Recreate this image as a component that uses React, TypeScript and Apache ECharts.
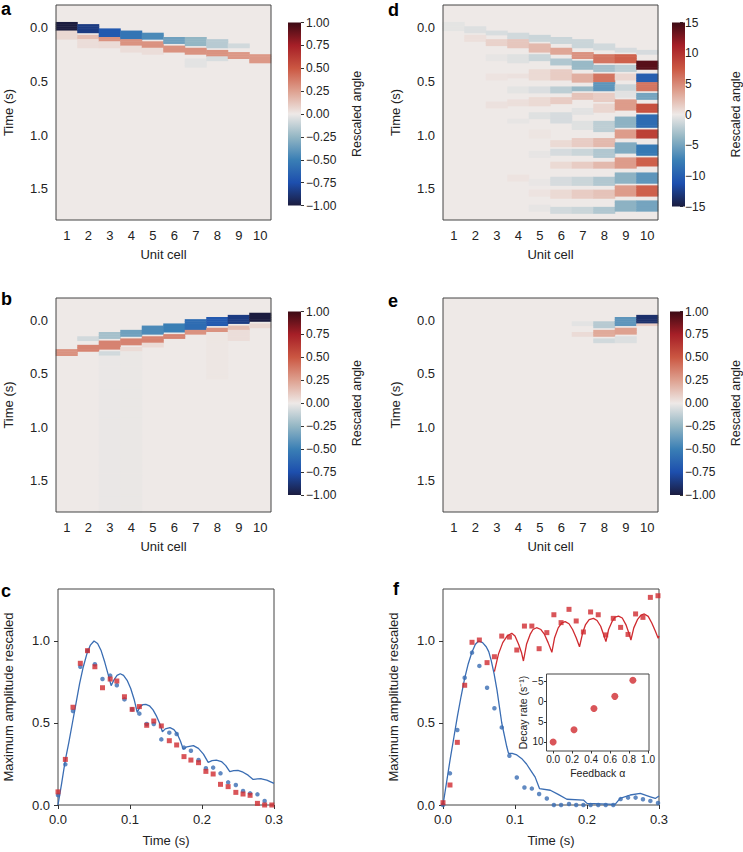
import React, { useEffect, useRef } from "react";
import * as echarts from "echarts";

const FONT = "'Liberation Sans', Arial, Helvetica, sans-serif";
const INK = "#222";
const CMAP = ["#1b1c3f", "#1d4fae", "#3a7fb5", "#93b6c4", "#eee9e7", "#dea190", "#cb5742", "#a61f27", "#3c0a14"];
const ZERO = "#eee9e7";

const CELLS = ["1", "2", "3", "4", "5", "6", "7", "8", "9", "10"];
// time rows of the heatmaps (s)
const ROW_TIMES: number[] = [];
for (let k = 0; k < 100; k++) ROW_TIMES.push(Math.round((-0.2 + 0.02 * k) * 1000) / 1000);
const ROW_LABEL_IDX = [10, 35, 60, 85];

// bands per unit cell: [t start, t end, value]
const A_BANDS = [
  [[-0.05, 0.03, -1.0], [0.04, 0.12, 0.06]],
  [[-0.03, 0.055, -0.85], [0.075, 0.12, 0.15], [0.12, 0.2, 0.04]],
  [[0.01, 0.085, -0.7], [0.1, 0.14, 0.3], [0.14, 0.2, 0.05]],
  [[0.03, 0.11, -0.55], [0.12, 0.17, 0.3], [0.17, 0.24, 0.04]],
  [[0.045, 0.12, -0.45], [0.14, 0.195, 0.3], [0.2, 0.26, 0.04]],
  [[0.085, 0.155, -0.35], [0.175, 0.24, 0.3]],
  [[0.1, 0.17, -0.25], [0.195, 0.255, 0.3], [0.3, 0.38, -0.03]],
  [[0.12, 0.195, -0.15], [0.205, 0.27, 0.3], [0.28, 0.32, -0.06]],
  [[0.155, 0.2, -0.08], [0.225, 0.285, 0.28]],
  [[0.26, 0.33, 0.28]],
];
const B_BANDS = [
  [[0.27, 0.34, 0.3]],
  [[0.16, 0.19, -0.08], [0.23, 0.3, 0.35]],
  [[0.12, 0.18, -0.2], [0.2, 0.27, 0.35], [0.29, 0.33, -0.08], [0.34, 1.8, -0.01]],
  [[0.085, 0.16, -0.35], [0.18, 0.24, 0.35], [0.26, 0.3, 0.05], [0.3, 1.8, -0.012]],
  [[0.06, 0.13, -0.45], [0.15, 0.21, 0.35], [0.22, 0.26, 0.05]],
  [[0.04, 0.11, -0.5], [0.125, 0.18, 0.35]],
  [[0.0, 0.085, -0.6], [0.1, 0.14, 0.3]],
  [[-0.02, 0.06, -0.7], [0.075, 0.12, 0.3], [0.12, 0.55, 0.012]],
  [[-0.04, 0.04, -0.85], [0.05, 0.085, 0.15], [0.085, 0.2, 0.04]],
  [[-0.06, 0.02, -1.0], [0.04, 0.07, 0.06]],
];
const D_BANDS = [
  [[-0.05, 0.03, -0.4]],
  [[0.0, 0.06, -0.7], [0.08, 0.14, 0.5]],
  [[0.03, 0.08, -0.9], [0.11, 0.17, 1.2], [0.26, 0.32, -0.3], [0.44, 0.5, 0.3], [0.7, 0.76, 0.4]],
  [[0.05, 0.11, -1.2], [0.12, 0.2, 1.8], [0.25, 0.34, -0.6], [0.43, 0.48, 0.4], [0.56, 0.62, -0.4], [0.68, 0.74, 0.5], [0.85, 0.9, -0.3], [1.38, 1.44, 0.3]],
  [[0.07, 0.13, -1.5], [0.16, 0.23, 2.5], [0.25, 0.32, -1.5], [0.4, 0.49, 0.8], [0.55, 0.62, -0.8], [0.66, 0.73, 0.8], [0.8, 0.86, -0.6], [0.96, 1.03, 0.2], [1.16, 1.22, -0.3], [1.42, 1.48, -0.2], [1.52, 1.58, 0.3], [1.66, 1.72, -0.3]],
  [[0.09, 0.16, -1.5], [0.185, 0.26, 3.5], [0.29, 0.35, -2.5], [0.4, 0.49, 1.5], [0.55, 0.62, -2.0], [0.65, 0.72, 1.5], [0.79, 0.9, -1.0], [1.05, 1.11, 0.8], [1.14, 1.2, -1.0], [1.25, 1.31, 0.8], [1.4, 1.47, -1.0], [1.51, 1.59, 0.8], [1.67, 1.73, -1.2]],
  [[0.12, 0.185, -1.5], [0.225, 0.29, 4.5], [0.32, 0.385, -3.5], [0.43, 0.51, 3.0], [0.55, 0.6, -3.5], [0.62, 0.68, 2.0], [0.76, 0.82, -0.5], [0.88, 0.95, -0.6], [1.03, 1.11, 1.5], [1.14, 1.2, -1.5], [1.25, 1.31, 1.5], [1.4, 1.47, -1.5], [1.51, 1.59, 1.5], [1.67, 1.73, -1.5]],
  [[0.155, 0.215, -1.2], [0.255, 0.33, 6.0], [0.355, 0.42, -3.0], [0.43, 0.51, 6.0], [0.52, 0.6, -6.0], [0.62, 0.69, 1.5], [0.72, 0.79, 1.0], [0.88, 0.97, -2.0], [1.03, 1.11, 2.5], [1.14, 1.22, -2.5], [1.25, 1.31, 2.5], [1.4, 1.47, -2.5], [1.51, 1.59, 2.0], [1.67, 1.73, -2.5]],
  [[0.185, 0.23, -1.0], [0.26, 0.34, 7.0], [0.355, 0.415, -2.0], [0.43, 0.5, 1.0], [0.525, 0.585, -1.5], [0.6, 0.66, -0.5], [0.68, 0.77, 4.0], [0.83, 0.94, -4.0], [0.96, 1.03, 4.0], [1.08, 1.17, -4.5], [1.22, 1.31, 4.0], [1.36, 1.45, -4.0], [1.48, 1.57, 4.0], [1.62, 1.71, -4.0]],
  [[0.215, 0.26, -1.0], [0.32, 0.4, 14.0], [0.43, 0.51, -10.0], [0.52, 0.585, 6.0], [0.62, 0.68, -5.0], [0.71, 0.79, 8.0], [0.82, 0.93, -9.0], [0.96, 1.03, 9.0], [1.1, 1.19, -8.0], [1.22, 1.3, 7.0], [1.36, 1.45, -6.0], [1.48, 1.57, 7.0], [1.62, 1.71, -5.0]],
];
const E_BANDS = [
  [], [], [], [], [], [],
  [[0.02, 0.06, -0.03], [0.11, 0.16, 0.05]],
  [[0.01, 0.07, -0.15], [0.09, 0.15, 0.22], [0.17, 0.22, -0.08]],
  [[-0.02, 0.05, -0.4], [0.07, 0.13, 0.25], [0.16, 0.21, -0.05]],
  [[-0.05, 0.03, -0.9], [0.03, 0.06, 0.1]],
];

// panel c
const C_MODEL_T = [0, 0.005, 0.01, 0.015, 0.02, 0.025, 0.03, 0.035, 0.04, 0.045, 0.05, 0.055, 0.06, 0.065, 0.07, 0.0738, 0.078, 0.082, 0.0865, 0.091, 0.096, 0.101, 0.106, 0.11, 0.114, 0.118, 0.122, 0.127, 0.132, 0.137, 0.141, 0.145, 0.149, 0.1555, 0.161, 0.166, 0.17, 0.174, 0.179, 0.188, 0.195, 0.202, 0.2086, 0.214, 0.22, 0.227, 0.233, 0.2386, 0.244, 0.25, 0.257, 0.264, 0.271, 0.277, 0.2825, 0.29, 0.3];
const C_MODEL_V = [0, 0.13, 0.27, 0.38, 0.5, 0.62, 0.74, 0.84, 0.92, 0.975, 1.0, 0.985, 0.94, 0.87, 0.79, 0.728, 0.765, 0.79, 0.8, 0.79, 0.76, 0.71, 0.64, 0.565, 0.6, 0.612, 0.614, 0.605, 0.58, 0.54, 0.5, 0.447, 0.464, 0.472, 0.46, 0.43, 0.39, 0.34, 0.355, 0.362, 0.345, 0.31, 0.26, 0.27, 0.274, 0.265, 0.24, 0.203, 0.209, 0.211, 0.2, 0.182, 0.156, 0.159, 0.16, 0.152, 0.132];
const C_DOT_T = [0, 0.0102, 0.0208, 0.031, 0.041, 0.0512, 0.0618, 0.0725, 0.0817, 0.0923, 0.103, 0.113, 0.1232, 0.133, 0.1435, 0.1546, 0.1648, 0.175, 0.1846, 0.1952, 0.2054, 0.2155, 0.2257, 0.2363, 0.247, 0.257, 0.2668, 0.277, 0.287, 0.297];
const C_BLUE = [0.06, 0.248, 0.573, 0.843, 0.94, 0.858, 0.768, 0.789, 0.73, 0.644, 0.583, 0.557, 0.494, 0.494, 0.4, 0.441, 0.433, 0.35, 0.331, 0.274, 0.224, 0.228, 0.193, 0.138, 0.122, 0.085, 0.071, 0.065, 0.024];
const C_RED = [0.08, 0.278, 0.596, 0.864, 0.941, 0.843, 0.715, 0.768, 0.756, 0.66, 0.583, 0.6, 0.486, 0.512, 0.482, 0.392, 0.366, 0.295, 0.274, 0.258, 0.205, 0.189, 0.126, 0.112, 0.077, 0.067, 0.059, 0.01, 0.0, 0.0];

// panel f
const F_BLUE_MODEL_T = [0, 0.005, 0.01, 0.015, 0.02, 0.025, 0.03, 0.035, 0.04, 0.045, 0.0496, 0.055, 0.06, 0.0635, 0.067, 0.071, 0.075, 0.0816, 0.0886, 0.091, 0.096, 0.1025, 0.11, 0.116, 0.122, 0.128, 0.134, 0.149, 0.16, 0.172, 0.195, 0.2, 0.239, 0.246, 0.26, 0.274, 0.288, 0.2948, 0.3];
const F_BLUE_MODEL_V = [0, 0.14, 0.28, 0.41, 0.54, 0.66, 0.77, 0.86, 0.93, 0.98, 1.0, 0.99, 0.965, 0.935, 0.88, 0.8, 0.7, 0.5, 0.355, 0.315, 0.315, 0.305, 0.28, 0.25, 0.21, 0.17, 0.1, 0.09, 0.065, 0.035, 0.03, 0.01, 0.004, 0.04, 0.061, 0.071, 0.05, 0.04, 0.055];
const F_RED_MODEL_T = [0.0714, 0.077, 0.083, 0.089, 0.0955, 0.1, 0.105, 0.109, 0.1117, 0.116, 0.121, 0.125, 0.13, 0.136, 0.141, 0.146, 0.1512, 0.155, 0.16, 0.165, 0.1697, 0.175, 0.18, 0.185, 0.1896, 0.194, 0.198, 0.203, 0.209, 0.214, 0.219, 0.223, 0.2263, 0.23, 0.235, 0.239, 0.2438, 0.249, 0.254, 0.258, 0.261, 0.265, 0.27, 0.275, 0.2796, 0.285, 0.29, 0.295, 0.2989, 0.3];
const F_RED_MODEL_V = [0.813, 0.92, 0.99, 1.03, 1.047, 1.03, 0.98, 0.93, 0.878, 0.98, 1.04, 1.07, 1.081, 1.07, 1.04, 0.99, 0.931, 1.02, 1.08, 1.11, 1.118, 1.105, 1.07, 1.02, 0.965, 1.05, 1.1, 1.13, 1.138, 1.125, 1.09, 1.04, 0.996, 1.07, 1.12, 1.145, 1.152, 1.14, 1.1, 1.05, 1.006, 1.08, 1.13, 1.158, 1.165, 1.15, 1.11, 1.06, 1.016, 1.03];
const F_DOT_T = [0, 0.0097, 0.0199, 0.0301, 0.0403, 0.0505, 0.0612, 0.0714, 0.0816, 0.0922, 0.1025, 0.1131, 0.1234, 0.1335, 0.1442, 0.154, 0.164, 0.175, 0.185, 0.195, 0.205, 0.2156, 0.226, 0.2365, 0.2467, 0.257, 0.2675, 0.2777, 0.288, 0.2986];
const F_BLUE = [0, 0.193, 0.457, 0.776, 0.929, 0.848, 0.715, 0.59, 0.473, 0.3, 0.168, 0.107, 0.1, 0.067, 0.04, 0, 0, 0.006, 0, 0, 0, 0, 0, 0, 0.036, 0.045, 0.045, 0.035, 0.025, 0.012];
const F_RED = [0.014, 0.122, 0.382, 0.73, 0.992, 1.006, 0.868, 0.904, 1.03, 1.024, 0.945, 1.091, 1.091, 0.953, 1.051, 1.16, 1.112, 1.193, 1.122, 1.055, 1.177, 1.16, 1.037, 1.138, 1.083, 1.04, 1.165, 1.144, 1.266, 1.276];

// inset
const FEEDBACK = [0, 0.22, 0.43, 0.65, 0.84];
const DECAY = [10, 7, 1.7, -1.3, -5.3];

const minus = (s: string) => s.replace("-", "\u2212");
const pair = (t: number[], v: number[]) => v.map((y, i) => [t[i], y]);

function bandsToCells(bands: number[][][]) {
  const out: number[][] = [];
  bands.forEach((col, ci) =>
    col.forEach(([t0, t1, v]) =>
      ROW_TIMES.forEach((t, ri) => {
        if (t >= t0 - 1e-9 && t < t1 - 1e-9) out.push([ci, ri, v]);
      })
    )
  );
  return out;
}

const rowInterval = (idx: number) => ROW_LABEL_IDX.indexOf(idx) >= 0;

const HEAT_GRIDS = [
  { left: 56, top: 5, width: 215, height: 215 },
  { left: 56, top: 298, width: 215, height: 214 },
  { left: 443, top: 5, width: 215, height: 215 },
  { left: 443, top: 298, width: 215, height: 214 },
];
const CBARS = [
  { left: 288, top: 22.5, width: 13, height: 183, min: -1, max: 1, interval: 0.25, dec: 2 },
  { left: 288, top: 311.5, width: 13, height: 183.5, min: -1, max: 1, interval: 0.25, dec: 2 },
  { left: 672, top: 22.5, width: 13, height: 184, min: -15, max: 15, interval: 5, dec: 0 },
  { left: 670, top: 311.5, width: 13, height: 183.5, min: -1, max: 1, interval: 0.25, dec: 2 },
];

export default function App() {
  const ref = useRef<HTMLDivElement>(null);
  useEffect(() => {
    if (!ref.current) return;
    const chart = echarts.init(ref.current, undefined, { renderer: "svg" });
    const grid: any[] = [];
    const xAxis: any[] = [];
    const yAxis: any[] = [];
    const series: any[] = [];
    const graphic: any[] = [];

    const tickStyle = { lineStyle: { color: "#333", width: 1 } };

    // heatmaps
    const heatBands = [A_BANDS, B_BANDS, D_BANDS, E_BANDS];
    HEAT_GRIDS.forEach((g, i) => {
      grid.push({ ...g, show: true, backgroundColor: ZERO, borderWidth: 0 });
      xAxis.push({
        type: "category", gridIndex: i, data: CELLS,
        axisLine: { show: false },
        axisTick: { alignWithLabel: true, length: 4, ...tickStyle },
        axisLabel: { fontSize: 13, color: INK, margin: 9, fontFamily: FONT },
        splitLine: { show: false },
        name: "Unit cell", nameLocation: "middle", nameGap: 28,
        nameTextStyle: { fontSize: 13, color: INK, fontFamily: FONT },
      });
      yAxis.push({
        type: "category", gridIndex: i, data: ROW_TIMES.map(String), inverse: true,
        axisLine: { show: false },
        axisTick: { alignWithLabel: true, length: 4, interval: rowInterval, ...tickStyle },
        axisLabel: { interval: rowInterval, formatter: (v: string) => Number(v).toFixed(1), fontSize: 13, color: INK, margin: 8, fontFamily: FONT },
        splitLine: { show: false },
        name: "Time (s)", nameLocation: "middle", nameGap: 41, nameRotate: 90,
        nameTextStyle: { fontSize: 13, color: INK, fontFamily: FONT },
      });
      series.push({
        type: "heatmap", xAxisIndex: i, yAxisIndex: i,
        data: bandsToCells(heatBands[i]), emphasis: { disabled: true }, silent: true,
      });
      graphic.push({
        type: "rect", z: 100, shape: { x: g.left, y: g.top, width: g.width, height: g.height },
        style: { fill: "none", stroke: "#444", lineWidth: 1 },
      });
    });

    // line plots c (4) and f (5)
    const lineGrids = [
      { left: 58, top: 589, width: 216, height: 216 },
      { left: 443, top: 589, width: 216, height: 216 },
    ];
    lineGrids.forEach((g, k) => {
      const gi = 4 + k;
      grid.push({ ...g, show: true, backgroundColor: "#fff", borderColor: "#444", borderWidth: 1 });
      xAxis.push({
        type: "value", gridIndex: gi, min: 0, max: 0.3, interval: 0.1,
        axisLine: { show: false, onZero: false },
        axisTick: { show: true, length: 4, customValues: [0, 0.1, 0.2, 0.3], ...tickStyle },
        axisLabel: { customValues: [0, 0.1, 0.2, 0.3], formatter: (v: number) => v.toFixed(1), fontSize: 13, color: INK, margin: 8, fontFamily: FONT },
        splitLine: { show: false },
        name: "Time (s)", nameLocation: "middle", nameGap: 29,
        nameTextStyle: { fontSize: 13, color: INK, fontFamily: FONT },
      });
      yAxis.push({
        type: "value", gridIndex: gi, min: 0, max: 1.317, interval: 0.5,
        axisLine: { show: false, onZero: false },
        axisTick: { show: true, length: 4, customValues: [0, 0.5, 1], ...tickStyle },
        axisLabel: { customValues: [0, 0.5, 1], formatter: (v: number) => v.toFixed(1), fontSize: 13, color: INK, margin: 8, fontFamily: FONT },
        splitLine: { show: false },
        name: "Maximum amplitude rescaled", nameLocation: "middle", nameGap: 43, nameRotate: 90,
        nameTextStyle: { fontSize: 13, color: INK, fontFamily: FONT },
      });
    });
    const BLUE = "#3a6db3";
    const RED = "#cf2a2f";
    series.push(
      { type: "line", xAxisIndex: 4, yAxisIndex: 4, data: pair(C_MODEL_T, C_MODEL_V), showSymbol: false, lineStyle: { color: BLUE, width: 1.3 }, z: 2 },
      { type: "scatter", xAxisIndex: 4, yAxisIndex: 4, data: pair(C_DOT_T, C_BLUE), symbol: "circle", symbolSize: 4.5, itemStyle: { color: BLUE }, clip: false, z: 3 },
      { type: "scatter", xAxisIndex: 4, yAxisIndex: 4, data: pair(C_DOT_T, C_RED), symbol: "rect", symbolSize: 5, itemStyle: { color: RED }, clip: false, z: 4 },
      { type: "line", xAxisIndex: 5, yAxisIndex: 5, data: pair(F_BLUE_MODEL_T, F_BLUE_MODEL_V), showSymbol: false, lineStyle: { color: BLUE, width: 1.3 }, z: 2 },
      { type: "line", xAxisIndex: 5, yAxisIndex: 5, data: pair(F_RED_MODEL_T, F_RED_MODEL_V), showSymbol: false, lineStyle: { color: RED, width: 1.3 }, z: 2 },
      { type: "scatter", xAxisIndex: 5, yAxisIndex: 5, data: pair(F_DOT_T, F_BLUE), symbol: "circle", symbolSize: 4.5, itemStyle: { color: BLUE }, clip: false, z: 3 },
      { type: "scatter", xAxisIndex: 5, yAxisIndex: 5, data: pair(F_DOT_T, F_RED), symbol: "rect", symbolSize: 5, itemStyle: { color: RED }, clip: false, z: 4 },
    );

    // inset (6)
    grid.push({ left: 546.5, top: 674, width: 102.5, height: 77, show: true, backgroundColor: "#fff", borderColor: "#444", borderWidth: 1, z: 10 });
    xAxis.push({
      type: "value", gridIndex: 6, min: -0.07, max: 1.01, z: 10,
      axisLine: { show: false, onZero: false },
      axisTick: { show: true, length: 2.5, customValues: [0, 0.2, 0.4, 0.6, 0.8, 1.0], ...tickStyle },
      axisLabel: { customValues: [0, 0.2, 0.4, 0.6, 0.8, 1.0], formatter: (v: number) => v.toFixed(1), fontSize: 10, color: INK, margin: 3, fontFamily: FONT },
      splitLine: { show: false },
      name: "Feedback \u03b1", nameLocation: "middle", nameGap: 16,
      nameTextStyle: { fontSize: 10.5, color: INK, fontFamily: FONT },
    });
    yAxis.push({
      type: "value", gridIndex: 6, min: -6.85, max: 12.25, inverse: true, z: 10,
      axisLine: { show: false, onZero: false },
      axisTick: { show: true, length: 2.5, customValues: [-5, 0, 5, 10], ...tickStyle },
      axisLabel: { customValues: [-5, 0, 5, 10], formatter: (v: number) => minus(String(v)), fontSize: 10, color: INK, margin: 3, fontFamily: FONT },
      splitLine: { show: false },
      name: "Decay rate (s\u207b\u00b9)", nameLocation: "middle", nameGap: 15, nameRotate: 90,
      nameTextStyle: { fontSize: 10.5, color: INK, fontFamily: FONT },
    });
    series.push({ type: "scatter", xAxisIndex: 6, yAxisIndex: 6, data: pair(FEEDBACK, DECAY), symbol: "circle", symbolSize: 7, itemStyle: { color: RED }, clip: false, z: 11 });

    // colorbars (7..10)
    CBARS.forEach((c, k) => {
      const gi = 7 + k;
      grid.push({ left: c.left, top: c.top, width: c.width, height: c.height });
      xAxis.push({ type: "value", gridIndex: gi, min: 0, max: 1, show: false });
      yAxis.push({
        type: "value", gridIndex: gi, position: "right", min: c.min, max: c.max, interval: c.interval,
        axisLine: { show: false, onZero: false },
        axisTick: { show: true, length: 3, ...tickStyle },
        axisLabel: { formatter: (v: number) => minus(v.toFixed(c.dec)), fontSize: 12, color: INK, margin: 5, fontFamily: FONT },
        splitLine: { show: false },
        name: "Rescaled angle", nameLocation: "middle", nameGap: 49, nameRotate: 90,
        nameTextStyle: { fontSize: 12.5, color: INK, fontFamily: FONT },
      });
      const stops = CMAP.slice().reverse().map((col, j) => ({ offset: j / (CMAP.length - 1), color: col }));
      graphic.push({
        type: "rect", z: 50,
        shape: { x: c.left, y: c.top, width: c.width, height: c.height },
        style: { fill: { type: "linear", x: 0, y: 0, x2: 0, y2: 1, colorStops: stops }, stroke: "none" },
      });
    });

    // panel letters
    const letters = [
      ["a", 1, 9], ["d", 388, 9.5], ["b", 1, 298.5], ["e", 388, 300.5], ["c", 1, 590.5], ["f", 393, 588.5],
    ];
    letters.forEach(([t, x, y]) => {
      graphic.push({
        type: "text", x, y, z: 100,
        style: { text: t, font: `bold 18px ${FONT}`, fill: "#000", align: "left", verticalAlign: "middle" },
      });
    });

    chart.setOption({
      animation: false,
      textStyle: { fontFamily: FONT },
      grid, xAxis, yAxis, series, graphic,
      visualMap: [
        { type: "continuous", show: false, min: -1, max: 1, seriesIndex: [0, 1, 3], inRange: { color: CMAP } },
        { type: "continuous", show: false, min: -15, max: 15, seriesIndex: [2], inRange: { color: CMAP } },
      ],
    });
    return () => chart.dispose();
  }, []);
  return <div ref={ref} style={{ position: "absolute", left: 0, top: 0, width: 743, height: 852 }} />;
}
